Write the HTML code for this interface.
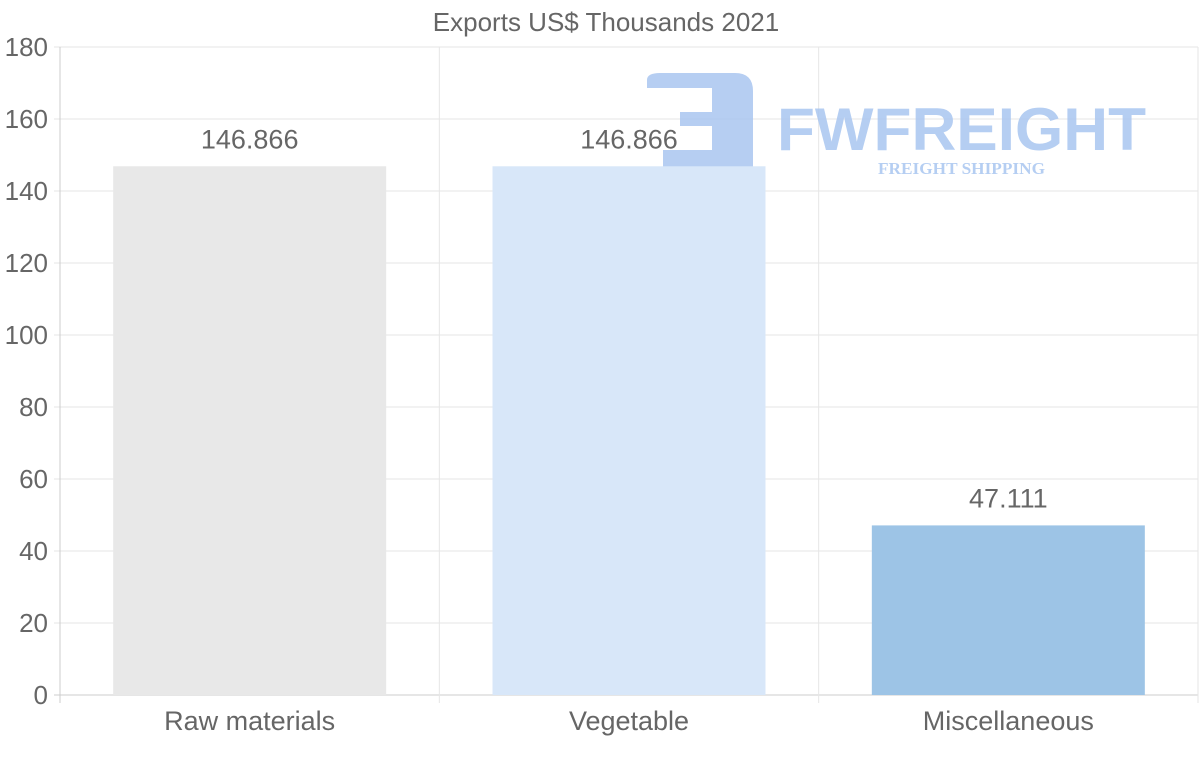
<!DOCTYPE html>
<html><head><meta charset="utf-8"><style>
html,body{margin:0;padding:0;background:#fff;}
svg{display:block;font-family:"Liberation Sans",sans-serif;}
</style></head><body>
<svg id="chart" width="1200" height="763">
<text x="606" y="31" text-anchor="middle" font-size="26" fill="#666">Exports US$ Thousands 2021</text>
<g id="grid"></g>
<g id="watermark" opacity="0.85">
<path d="M660,73 H735 Q753,73 753,91 V170 H663 V150 H712 V126 H680 V112 H712 V88 H647 V80 Q647,73 660,73 Z" fill="#a9c6f0"/>
<text x="777" y="150" font-size="60" font-weight="bold" fill="#a9c6f0" textLength="369" lengthAdjust="spacingAndGlyphs">FWFREIGHT</text>
<text x="878" y="174" font-size="17" font-weight="bold" fill="#a9c6f0" font-family="Liberation Serif,serif" textLength="167" lengthAdjust="spacingAndGlyphs">FREIGHT SHIPPING</text>
</g>
<g id="bars"></g>
<g id="labels"></g>
</svg>
<script>
const categories = ["Raw materials","Vegetable","Miscellaneous"];
const values = [146.866, 146.866, 47.111];
const valueLabels = ["146.866","146.866","47.111"];
const colors = ["#e8e8e8","#d8e7f9","#9dc4e6"];
const yTicks = [0,20,40,60,80,100,120,140,160,180];

const NS="http://www.w3.org/2000/svg";
const L=60,R=1198,T=47,B=695,yMax=180;
const y=v=>B-(v/yMax)*(B-T);
const bw=(R-L)/categories.length;
const xc=i=>L+bw*(i+0.5);
function mk(tag,attrs,parent,txt){const e=document.createElementNS(NS,tag);for(const k in attrs)e.setAttribute(k,attrs[k]);if(txt!==undefined)e.textContent=txt;parent.appendChild(e);return e;}
const grid=document.getElementById('grid'),bars=document.getElementById('bars'),labels=document.getElementById('labels');
yTicks.forEach(t=>{
  const l=mk('line',{x1:L-6,x2:R,y1:y(t),y2:y(t),stroke:t===0?'#ccc':'#e6e6e6','stroke-width':1},grid);
  
  
  const tx=mk('text',{x:L-12,y:y(t)+9,'text-anchor':'end','font-size':26,fill:'#666'},grid,String(t));
  
  
});
for(let i=0;i<=categories.length;i++){
  const gx=L+bw*i;
  const l=mk('line',{x1:gx,x2:gx,y1:T,y2:B+8,stroke:i===0?'#ccc':'#e6e6e6','stroke-width':1},grid);
  
  
}
const barW=273;
categories.forEach((c,i)=>{
  const r=mk('rect',{x:xc(i)-barW/2,y:y(values[i]),width:barW,height:B-y(values[i]),fill:colors[i]},bars);
  
  
  const v=mk('text',{x:xc(i),y:y(values[i])-18,'text-anchor':'middle','font-size':27,fill:'#666'},labels,valueLabels[i]);
  
  
  const xl=mk('text',{x:xc(i),y:730,'text-anchor':'middle','font-size':27,fill:'#666'},labels,c);
  
  
});
</script>
</body></html>
